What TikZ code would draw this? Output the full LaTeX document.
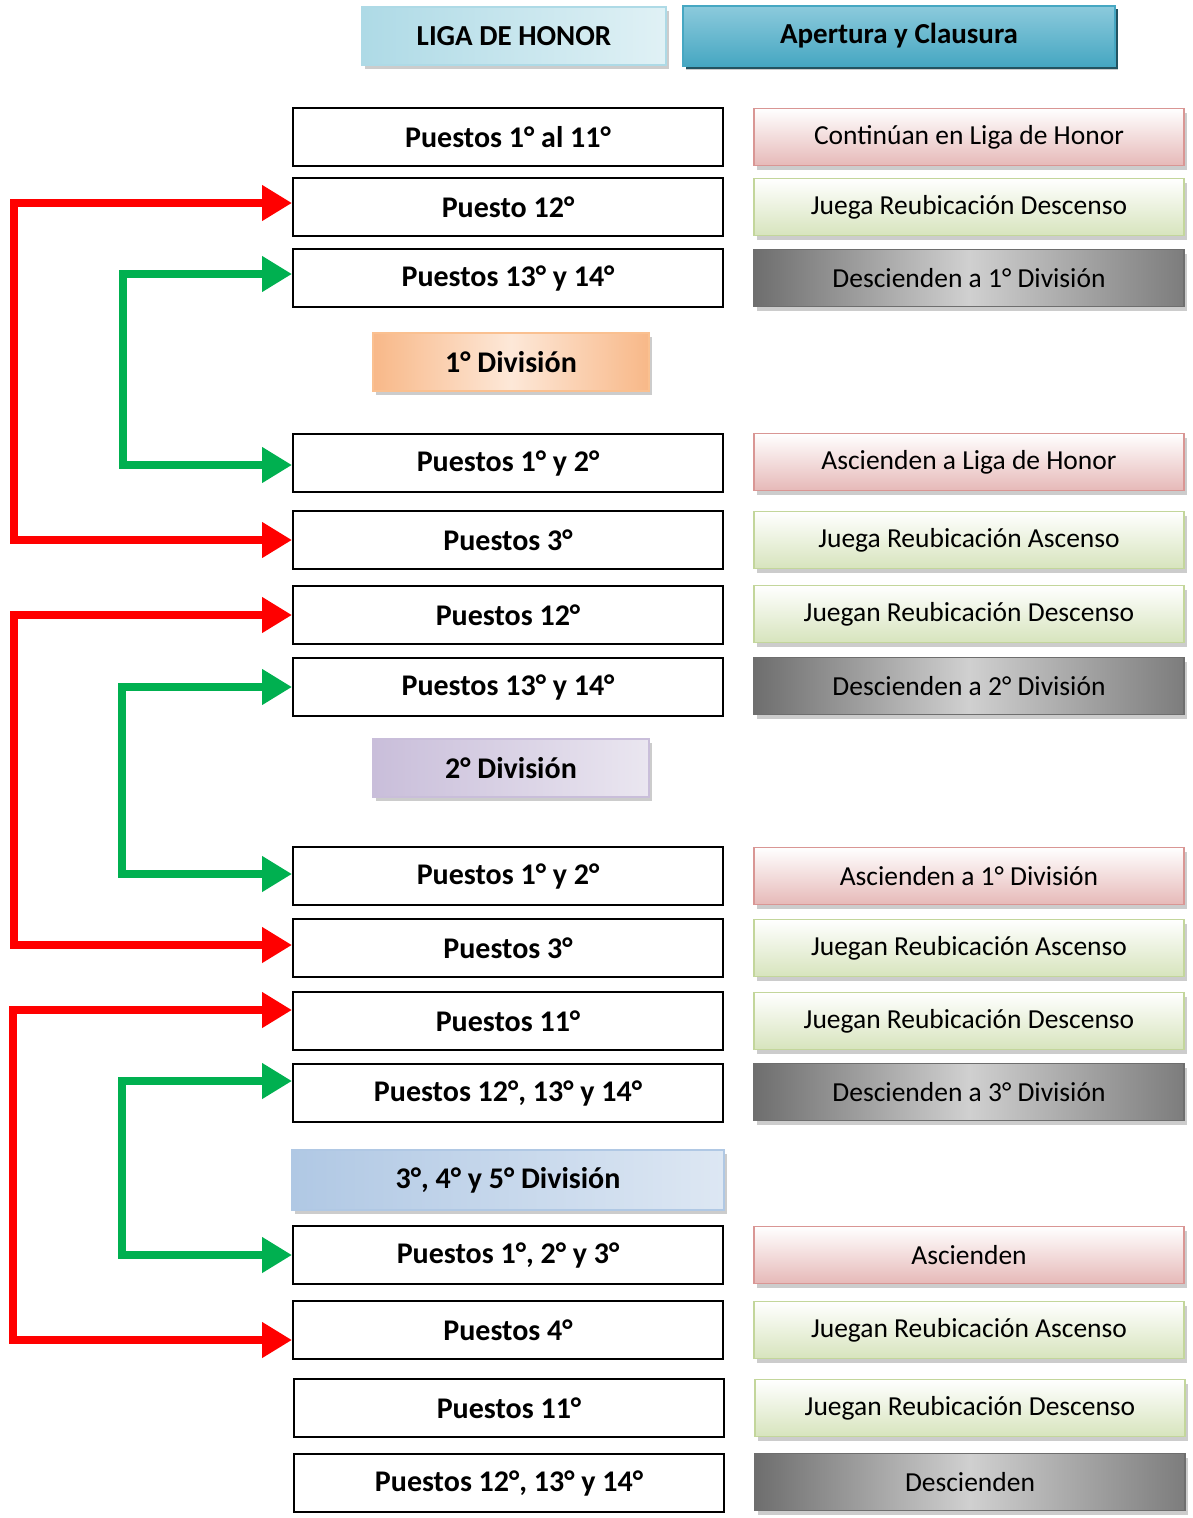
\documentclass[tikz,border=0pt]{standalone}
\usepackage{fontspec}
\setmainfont{Carlito}
\usetikzlibrary{arrows.meta,shadows}
\definecolor{pinkB}{HTML}{D99694}
\definecolor{pinkC}{HTML}{E6B9B8}
\definecolor{greenB}{HTML}{C3D69B}
\definecolor{greenC}{HTML}{D7E4BD}
\definecolor{grayD}{HTML}{6E6E6E}
\definecolor{grayL}{HTML}{D0D0D0}
\definecolor{orgB}{HTML}{FAC090}
\definecolor{orgC}{HTML}{F8B888}
\definecolor{orgL}{HTML}{FDE8D8}
\definecolor{lavC}{HTML}{C9BEDA}
\definecolor{lavL}{HTML}{EAE6F0}
\definecolor{bluC}{HTML}{B0C8E4}
\definecolor{bluL}{HTML}{DDE7F3}
\definecolor{tealC}{HTML}{AEDAE6}
\definecolor{tealL}{HTML}{E0F1F5}
\definecolor{darkT}{HTML}{46A7C2}
\definecolor{darkTL}{HTML}{8CCADC}
\definecolor{redA}{HTML}{FF0000}
\definecolor{greenA}{HTML}{00B050}
\begin{document}
\begin{tikzpicture}[x=1pt,y=-1pt,
  lbox/.style={draw=black, line width=2pt, fill=white, minimum width=430pt, minimum height=58pt,
    inner sep=0pt, font=\bfseries\fontsize{30}{34}\selectfont},
  rbase/.style={line width=1.5pt, minimum width=430pt, minimum height=57pt, inner sep=0pt,
    font=\fontsize{27.5}{32}\selectfont,
    drop shadow={shadow xshift=3pt, shadow yshift=-4pt, fill=gray!40, opacity=1}},
  pinkbox/.style={rbase, draw=pinkB, top color=white, bottom color=pinkC},
  greenbox/.style={rbase, draw=greenB, top color=white, bottom color=greenC},
  graybox/.style={rbase, draw=grayD, left color=grayD, right color=grayD!90, middle color=grayL},
  divbox/.style={line width=1.5pt, minimum height=58pt, inner sep=0pt,
    font=\bfseries\fontsize{30}{34}\selectfont,
    drop shadow={shadow xshift=3pt, shadow yshift=-4pt, fill=gray!40, opacity=1}},
  redarr/.style={draw=redA, line width=8pt, line join=miter,
    {Triangle[length=30pt,width=34pt]}-{Triangle[length=30pt,width=34pt]}},
  greenarr/.style={draw=greenA, line width=8pt, line join=miter,
    {Triangle[length=30pt,width=34pt]}-{Triangle[length=30pt,width=34pt]}}
]
\useasboundingbox (0,0) rectangle (1193,1518);

% headers
\node[divbox, draw=tealC, left color=tealC, right color=tealL, minimum width=304pt, font=\bfseries\fontsize{29}{33}\selectfont] (h1) at (514,36) {LIGA DE HONOR};
\node[divbox, draw=darkT, top color=darkTL, bottom color=darkT, minimum width=432pt, minimum height=60pt, font=\bfseries\fontsize{29}{33}\selectfont,
  drop shadow={shadow xshift=3pt, shadow yshift=-3pt, fill=darkT!50!black, opacity=1}] (h2) at (899,36) {Apertura y Clausura};

% Liga de Honor block
\node[lbox] (l1) at (508,137) {Puestos 1° al 11°};
\node[lbox] (l2) at (508,207) {Puesto 12°};
\node[lbox] (l3) at (508,278) {Puestos 13° y 14°};
\node[divbox, draw=orgB, left color=orgC, right color=orgC, middle color=orgL, minimum width=276pt] (d1) at (511,362) {1° División};
\node[lbox] (l4) at (508,463) {Puestos 1° y 2°};
\node[lbox] (l5) at (508,540) {Puestos 3°};
\node[lbox] (l6) at (508,615) {Puestos 12°};
\node[lbox] (l7) at (508,687) {Puestos 13° y 14°};
\node[divbox, draw=lavC, left color=lavC, right color=lavL, minimum width=276pt] (d2) at (511,768) {2° División};
\node[lbox] (l8) at (508,876) {Puestos 1° y 2°};
\node[lbox] (l9) at (508,948) {Puestos 3°};
\node[lbox] (l10) at (508,1021) {Puestos 11°};
\node[lbox] (l11) at (508,1093) {Puestos 12°, 13° y 14°};
\node[divbox, draw=bluC, left color=bluC, right color=bluL, minimum width=432pt, minimum height=60pt] (d3) at (508,1180) {3°, 4° y 5° División};
\node[lbox] (l12) at (508,1255) {Puestos 1°, 2° y 3°};
\node[lbox] (l13) at (508,1330) {Puestos 4°};
\node[lbox] (l14) at (509,1408) {Puestos 11°};
\node[lbox] (l15) at (509,1483) {Puestos 12°, 13° y 14°};

% right column
\node[pinkbox] (r1) at (969,137) {Continúan en Liga de Honor};
\node[greenbox] (r2) at (969,207) {Juega Reubicación Descenso};
\node[graybox] (r3) at (969,278) {Descienden a 1° División};
\node[pinkbox] (r4) at (969,462) {Ascienden a Liga de Honor};
\node[greenbox] (r5) at (969,540) {Juega Reubicación Ascenso};
\node[greenbox] (r6) at (969,614) {Juegan Reubicación Descenso};
\node[graybox] (r7) at (969,686) {Descienden a 2° División};
\node[pinkbox] (r8) at (969,876) {Ascienden a 1° División};
\node[greenbox] (r9) at (969,948) {Juegan Reubicación Ascenso};
\node[greenbox] (r10) at (969,1021) {Juegan Reubicación Descenso};
\node[graybox] (r11) at (969,1092) {Descienden a 3° División};
\node[pinkbox] (r12) at (969,1255) {Ascienden};
\node[greenbox] (r13) at (969,1330) {Juegan Reubicación Ascenso};
\node[greenbox] (r14) at (970,1408) {Juegan Reubicación Descenso};
\node[graybox] (r15) at (970,1482) {Descienden};

% rails
\coordinate (ra1) at (14,370);
\coordinate (ga1) at (123,370);
\coordinate (ra2) at (14,780);
\coordinate (ga2) at (122,780);
\coordinate (ra3) at (13,1170);
\coordinate (ga3) at (122,1170);

\draw[redarr] ([yshift=4pt]l2.west) -| (ra1) |- (l5.west);
\draw[greenarr] ([yshift=4pt]l3.west) -| (ga1) |- ([yshift=-2pt]l4.west);
\draw[redarr] (l6.west) -| (ra2) |- ([yshift=3pt]l9.west);
\draw[greenarr] (l7.west) -| (ga2) |- ([yshift=2pt]l8.west);
\draw[redarr] ([yshift=11pt]l10.west) -| (ra3) |- ([yshift=-10pt]l13.west);
\draw[greenarr] ([yshift=12pt]l11.west) -| (ga3) |- (l12.west);
\end{tikzpicture}
\end{document}
